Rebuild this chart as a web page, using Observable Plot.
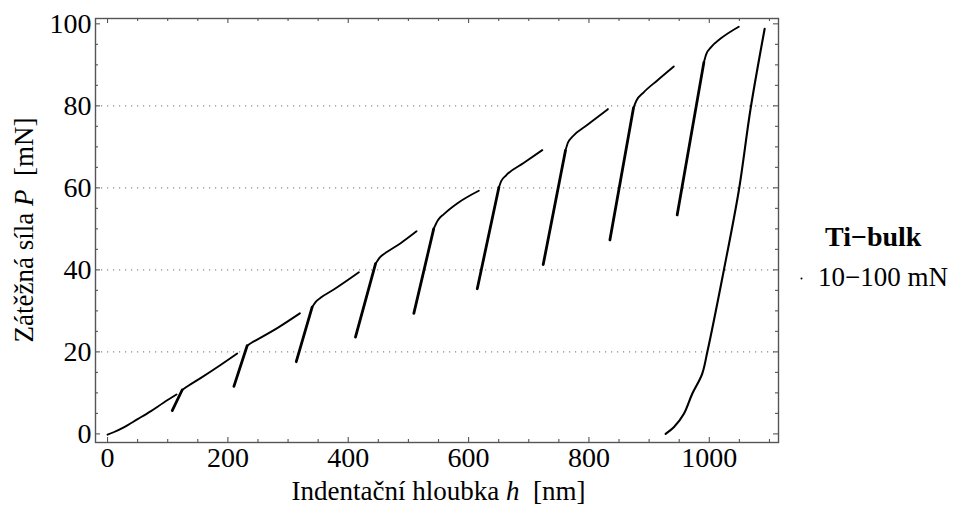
<!DOCTYPE html>
<html>
<head>
<meta charset="utf-8">
<script src="https://cdn.jsdelivr.net/npm/d3@7"></script>
<script src="https://cdn.jsdelivr.net/npm/@observablehq/plot@0.6"></script>
<style>
  html, body { margin: 0; padding: 0; background: #fff; }
  #chart { width: 953px; height: 506px; }
</style>
</head>
<body>
<div id="chart"></div>
<script>
// ---- Data (depth h in nm, load P in mN) ----
const loadingDepth = [
  [0, 10, 27, 50, 71.5, 93, 114.7],
  [124, 135, 154.6, 187.8, 215.5],
  [232, 240, 248.7, 282, 319.6],
  [340, 346, 354, 376, 417.7],
  [445.4, 453, 464.8, 487, 513.5],
  [542, 549, 559, 581, 617],
  [650.3, 654, 662, 692, 722.4],
  [761, 765, 772, 797, 831.5],
  [874, 879, 891, 913.6, 941],
  [991, 995, 1003, 1018.8, 1049]
];
const loadingForce = [
  [-0.2, 0.4, 1.6, 3.6, 5.5, 7.6, 9.6],
  [10.7, 11.8, 13.6, 16.8, 19.6],
  [21.5, 22.3, 23.0, 25.8, 29.4],
  [30.9, 32.2, 33.2, 35.2, 39.4],
  [41.5, 43.1, 44.4, 46.5, 49.4],
  [50.0, 52.1, 53.6, 56.2, 59.3],
  [60.1, 61.6, 63.0, 66.1, 69.2],
  [69.1, 71.0, 72.4, 75.3, 79.2],
  [79.5, 81.3, 83.3, 86.2, 89.6],
  [90.6, 92.6, 94.3, 96.4, 99.3]
];
// bottom of each partial unloading (reloading starts here, rises to next knee)
const unloadDepth = [107.5, 210, 313.6, 412, 509, 614.4, 724, 834.8, 946.6];
const unloadForce = [5.7, 11.6, 17.6, 23.6, 29.4, 35.4, 41.3, 47.3, 53.4];
// final full unloading
const finalDepth = [927.4, 941, 957.8, 971.7, 988, 996.6, 1024, 1049, 1068.6, 1092];
const finalForce = [0, 1.6, 4.9, 9.8, 14.6, 19.9, 39.8, 59.3, 79.3, 98.8];

const xMajor = [0, 200, 400, 600, 800, 1000];
const xMinor = [50, 100, 150, 250, 300, 350, 450, 500, 550, 650, 700, 750, 850, 900, 950, 1050, 1100];
const yMajor = [0, 20, 40, 60, 80, 100];
const yMinor = [5, 10, 15, 25, 30, 35, 45, 50, 55, 65, 70, 75, 85, 90, 95];
const yGrid = [20, 40, 60, 80];

// ---- Build tables ----
const loadingRows = loadingDepth.flatMap((hs, i) =>
  hs.map((h, j) => ({h, P: loadingForce[i][j], seg: i})));
const steepRows = unloadDepth.flatMap((h, i) => [
  {h, P: unloadForce[i], seg: i},
  {h: loadingDepth[i + 1][0], P: loadingForce[i + 1][0], seg: i}
]);
const finalRows = finalDepth.map((h, i) => ({h, P: finalForce[i]}));

const W = 953, H = 506;
const mL = 95, mR = 175, mT = 18, mB = 64;
const fw = W - mL - mR, fh = H - mT - mB;
const ink = "#000";
const frameCol = "#555";
const font = "'Liberation Serif', 'Times New Roman', serif";
const fs = 27;

const plot = Plot.plot({
  width: W, height: H,
  marginLeft: mL, marginRight: mR, marginTop: mT, marginBottom: mB,
  style: {fontFamily: font, fontSize: fs + "px", background: "#fff", color: "#000", overflow: "visible"},
  x: {domain: [-20, 1115]},
  y: {domain: [-2.1, 101.3]},
  marks: [
    Plot.ruleY(yGrid, {y: d => d, stroke: "#8a8a8a", strokeWidth: 1.2, strokeDasharray: "1.2,4.8"}),
    // ticks (inward) on all four sides
    Plot.ruleX(xMajor, {x: d => d, insetTop: fh - 5, stroke: frameCol, strokeWidth: 1.1}),
    Plot.ruleX(xMinor, {x: d => d, insetTop: fh - 3, stroke: frameCol, strokeWidth: 1.1}),
    Plot.ruleX(xMajor, {x: d => d, insetBottom: fh - 5, stroke: frameCol, strokeWidth: 1.1}),
    Plot.ruleX(xMinor, {x: d => d, insetBottom: fh - 3, stroke: frameCol, strokeWidth: 1.1}),
    Plot.ruleY(yMajor, {y: d => d, insetRight: fw - 5, stroke: frameCol, strokeWidth: 1.1}),
    Plot.ruleY(yMinor, {y: d => d, insetRight: fw - 3, stroke: frameCol, strokeWidth: 1.1}),
    Plot.ruleY(yMajor, {y: d => d, insetLeft: fw - 5, stroke: frameCol, strokeWidth: 1.1}),
    Plot.ruleY(yMinor, {y: d => d, insetLeft: fw - 3, stroke: frameCol, strokeWidth: 1.1}),
    Plot.axisX({ticks: xMajor, tickSize: 0, tickPadding: 5, label: null, fontSize: 28, tickFormat: d => String(d)}),
    Plot.axisY({ticks: yMajor, tickSize: 0, tickPadding: 4, label: null, fontSize: 28, tickFormat: d => String(d)}),
    Plot.frame({stroke: frameCol, strokeWidth: 1.4}),
    // data
    Plot.line(loadingRows, {x: "h", y: "P", z: "seg", stroke: ink, strokeWidth: 1.9, curve: "monotone-x"}),
    Plot.line(steepRows, {x: "h", y: "P", z: "seg", stroke: ink, strokeWidth: 2.8}),
    Plot.line(finalRows, {x: "h", y: "P", stroke: ink, strokeWidth: 2.1, curve: "catmull-rom"})
  ]
});
document.getElementById("chart").appendChild(plot);

// ---- axis titles and legend ----
const svg = d3.select(plot);
const xt = svg.append("text")
  .attr("x", mL + fw / 2 + 2).attr("y", 500)
  .attr("text-anchor", "middle")
  .style("font-family", font).style("font-size", fs + "px").attr("fill", "#000");
xt.append("tspan").text("Indentační hloubka ");
xt.append("tspan").style("font-style", "italic").text("h");
xt.append("tspan").text("  [nm]");

const yt = svg.append("text")
  .attr("transform", `translate(33,${mT + fh / 2}) rotate(-90)`)
  .attr("text-anchor", "middle")
  .style("font-family", font).style("font-size", fs + "px").attr("fill", "#000");
yt.append("tspan").text("Zátěžná síla ");
yt.append("tspan").style("font-style", "italic").text("P");
yt.append("tspan").text("  [mN]");

svg.append("text")
  .attr("x", 825).attr("y", 246).attr("text-anchor", "start")
  .style("font-family", font).style("font-size", "28px").style("font-weight", "bold")
  .attr("fill", "#000").text("Ti\u2212bulk");
svg.append("circle").attr("cx", 801.5).attr("cy", 278.5).attr("r", 1).attr("fill", "#000");
svg.append("text")
  .attr("x", 818).attr("y", 286).attr("text-anchor", "start")
  .style("font-family", font).style("font-size", fs + "px")
  .attr("fill", "#000").text("10\u2212100 mN");
</script>
</body>
</html>
